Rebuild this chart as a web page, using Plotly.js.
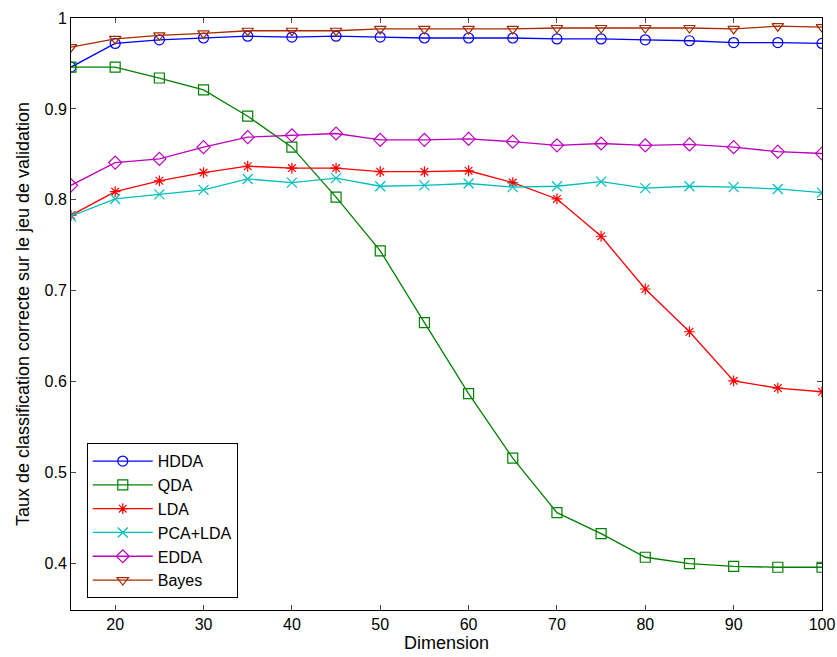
<!DOCTYPE html><html><head><script src="https://cdn.plot.ly/plotly-3.0.1.min.js"></script></head><body style="margin:0"><div id="c" style="width:837px;height:657px"></div><script>
const dims=[15,20,25,30,35,40,45,50,55,60,65,70,75,80,85,90,95,100];
const hdda=[0.946,0.972,0.976,0.978,0.980,0.979,0.980,0.979,0.978,0.978,0.978,0.977,0.977,0.976,0.975,0.973,0.973,0.972];
const qda=[0.946,0.946,0.934,0.921,0.892,0.858,0.803,0.744,0.665,0.587,0.516,0.456,0.433,0.407,0.400,0.397,0.396,0.396];
const lda=[0.783,0.809,0.821,0.830,0.837,0.835,0.835,0.831,0.831,0.832,0.819,0.801,0.760,0.702,0.655,0.601,0.593,0.589];
const pcalda=[0.782,0.801,0.806,0.811,0.823,0.819,0.824,0.815,0.816,0.818,0.814,0.815,0.820,0.813,0.815,0.814,0.812,0.808];
const edda=[0.816,0.841,0.845,0.858,0.869,0.871,0.873,0.866,0.866,0.867,0.864,0.860,0.862,0.860,0.861,0.858,0.853,0.851];
const bayes=[0.968,0.977,0.981,0.983,0.986,0.986,0.986,0.988,0.988,0.988,0.988,0.989,0.989,0.989,0.989,0.988,0.991,0.990];
function s(n,y,c,sym){return {x:dims,y:y,name:n,mode:'lines+markers',line:{color:c,width:1.3},marker:{symbol:sym,size:sym=='asterisk-open'?9:10,color:c,line:{color:c,width:1.2}}};}
const data=[s('HDDA',hdda,'#0000ff','circle-open'),s('QDA',qda,'#008000','square-open'),s('LDA',lda,'#ff0000','asterisk-open'),s('PCA+LDA',pcalda,'#00bfbf','x-thin-open'),s('EDDA',edda,'#bf00bf','diamond-open'),s('Bayes',bayes,'#a52a00','triangle-down-open')];
const ax={showgrid:false,zeroline:false,mirror:'ticks',ticks:'inside',ticklen:5,showline:true,linecolor:'#000',linewidth:1,tickfont:{size:16,color:'#000'}};
Plotly.newPlot('c',data,{width:837,height:657,margin:{l:71,r:15,t:18,b:47},paper_bgcolor:'#fff',plot_bgcolor:'#fff',font:{family:'Liberation Sans, Arial',color:'#000'},
xaxis:Object.assign({},ax,{range:[15,100],tickvals:[20,30,40,50,60,70,80,90,100],title:{text:'Dimension',font:{size:18},standoff:0}}),
yaxis:Object.assign({},ax,{range:[0.349,1],tickvals:[0.4,0.5,0.6,0.7,0.8,0.9,1],ticktext:['0.4','0.5','0.6','0.7','0.8','0.9','1'],title:{text:'Taux de classification correcte sur le jeu de validation',font:{size:18},standoff:10}}),
legend:{x:0.021,y:0.02,xanchor:'left',yanchor:'bottom',bordercolor:'#000',borderwidth:1,bgcolor:'#fff',font:{size:16},tracegroupgap:0,itemwidth:60}},{displayModeBar:false});
</script></body></html>
